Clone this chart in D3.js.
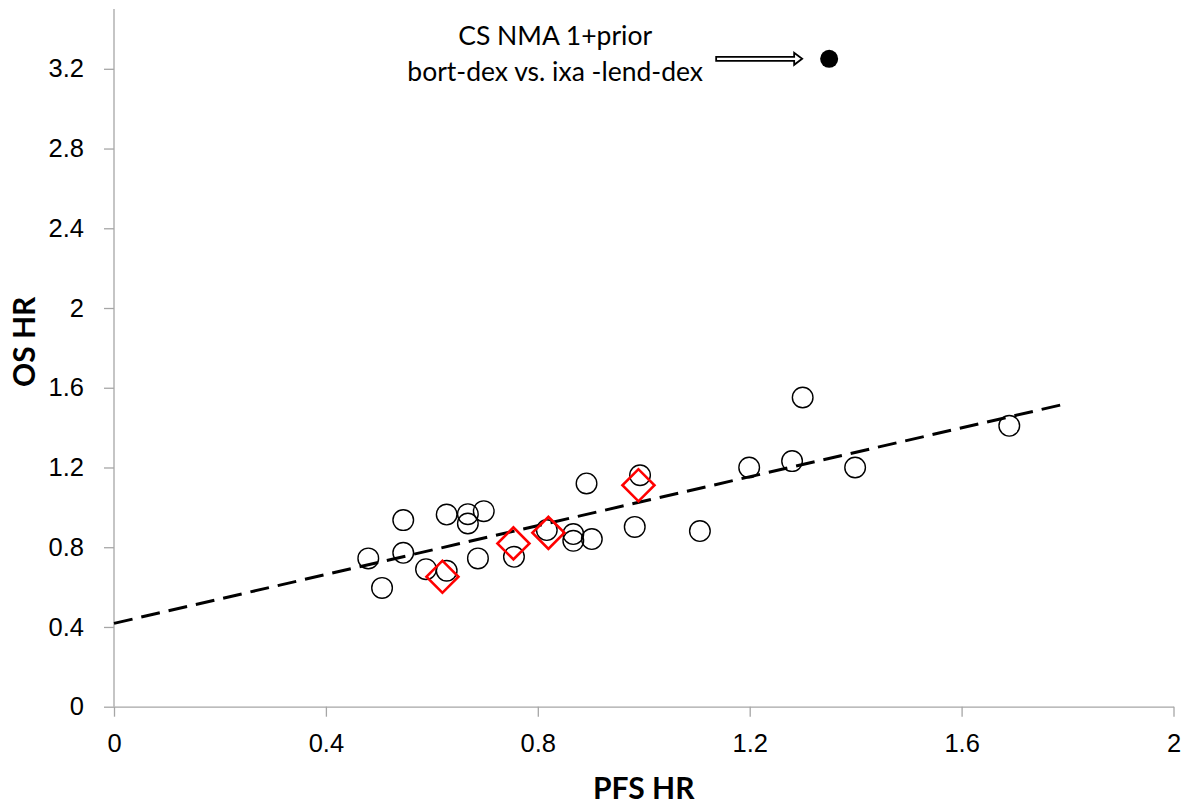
<!DOCTYPE html>
<html>
<head>
<meta charset="utf-8">
<script src="https://cdn.jsdelivr.net/npm/d3@7"></script>
<style>
  body { margin: 0; background: #fff; }
  svg { display: block; font-family: Lato, 'Open Sans', sans-serif; }
  .scatter__axis path,
  .scatter__axis line { stroke: #a6a6a6; stroke-width: 1.3; }
  .scatter__axis text { font-size: 25.5px; fill: #000; }
  .scatter__title { font-size: 30px; font-weight: bold; }
  .scatter__note { font-size: 26.5px; }
</style>
</head>
<body>
<div id="chart"></div>
<script>
// PFS HR / OS HR pairs
const pfsHR = [0.480, 0.546, 0.546, 0.506, 0.589, 0.628, 0.628, 0.668, 0.668, 0.698, 0.687,
  0.755, 0.817, 0.867, 0.867, 0.902, 0.892, 0.993, 0.983, 1.106, 1.300, 1.199, 1.280, 1.399, 1.690];
const osHR = [0.744, 0.936, 0.772, 0.596, 0.690, 0.682, 0.964, 0.966, 0.919, 0.981, 0.744,
  0.752, 0.886, 0.866, 0.832, 0.841, 1.120, 1.161, 0.902, 0.881, 1.551, 1.200, 1.232, 1.200, 1.409];

// highlighted comparisons (red diamonds)
const highlightPFS = [0.620, 0.754, 0.820, 0.990];
const highlightOS = [0.652, 0.819, 0.872, 1.111];

// annotated outlier
const outlier = [1.35, 3.25];
const noteLines = ['CS NMA 1+prior', 'bort-dex vs. ixa -lend-dex'];

// regression line: OS = intercept + slope * PFS, drawn from 0 to 1.8
const trendIntercept = 0.418;
const trendSlope = 0.613;
const trendRange = [0, 1.8];

const xTicks = [0, 0.4, 0.8, 1.2, 1.6, 2];
const yTicks = [0, 0.4, 0.8, 1.2, 1.6, 2, 2.4, 2.8, 3.2];

const width = 1190;
const height = 805;
const margin = { top: 9, right: 16.5, bottom: 98.3, left: 114 };

const svg = d3.select('#chart')
  .append('svg')
  .attr('width', width)
  .attr('height', height);

const x = d3.scaleLinear()
  .domain([0, 2])
  .range([margin.left, width - margin.right]);

const y = d3.scaleLinear()
  .domain([0, 3.5])
  .range([height - margin.bottom, margin.top]);

const xAxis = d3.axisBottom(x)
  .tickValues(xTicks)
  .tickFormat(d3.format('~g'))
  .tickSize(10)
  .tickSizeOuter(0)
  .tickPadding(12);

const yAxis = d3.axisLeft(y)
  .tickValues(yTicks)
  .tickFormat(d3.format('~g'))
  .tickSize(10)
  .tickSizeOuter(0)
  .tickPadding(20);

svg.append('g')
  .attr('class', 'scatter__axis scatter__axis--x')
  .attr('transform', `translate(0, ${y(0)})`)
  .call(xAxis)
  .call(g => g.selectAll('text').attr('dy', '0.92em'));

svg.append('g')
  .attr('class', 'scatter__axis scatter__axis--y')
  .attr('transform', `translate(${x(0)}, 0)`)
  .call(yAxis)
  .call(g => g.select('.domain').attr('d', `M0,${y(0)}V${y(3.5)}`));

// axis titles
svg.append('text')
  .attr('class', 'scatter__title')
  .attr('x', (x(0) + x(2)) / 2)
  .attr('y', 799)
  .attr('text-anchor', 'middle')
  .text('PFS HR');

svg.append('text')
  .attr('class', 'scatter__title')
  .attr('transform', `translate(35, ${y(1.83)}) rotate(-90)`)
  .attr('text-anchor', 'middle')
  .text('OS HR');

// trend line
const line = d3.line()
  .x(d => x(d))
  .y(d => y(trendIntercept + trendSlope * d));

svg.append('path')
  .datum(trendRange)
  .attr('d', line)
  .attr('fill', 'none')
  .attr('stroke', '#000')
  .attr('stroke-width', 3)
  .attr('stroke-dasharray', '19,9');

// open circles
svg.append('g')
  .selectAll('circle')
  .data(d3.zip(pfsHR, osHR))
  .join('circle')
  .attr('cx', d => x(d[0]))
  .attr('cy', d => y(d[1]))
  .attr('r', 10.3)
  .attr('fill', 'none')
  .attr('stroke', '#000')
  .attr('stroke-width', 1.4);

// red diamonds
const diamond = d3.symbol().type(d3.symbolSquare).size(512);

svg.append('g')
  .selectAll('path')
  .data(d3.zip(highlightPFS, highlightOS))
  .join('path')
  .attr('d', diamond)
  .attr('transform', d => `translate(${x(d[0])}, ${y(d[1])}) rotate(45)`)
  .attr('fill', 'none')
  .attr('stroke', '#ff0000')
  .attr('stroke-width', 2.6);

// outlier with its note
const ox = x(outlier[0]);
const oy = y(outlier[1]);

svg.append('circle')
  .attr('cx', ox)
  .attr('cy', oy)
  .attr('r', 9)
  .attr('fill', '#000');

const tipX = ox - 27;
const tailX = ox - 113;
svg.append('path')
  .attr('d', `M${tailX},${oy - 2}H${tipX - 8}V${oy - 6}L${tipX},${oy}L${tipX - 8},${oy + 6}V${oy + 2}H${tailX}Z`)
  .attr('fill', '#fff')
  .attr('stroke', '#000')
  .attr('stroke-width', 1.8);

svg.append('g')
  .selectAll('text')
  .data(noteLines)
  .join('text')
  .attr('class', 'scatter__note')
  .attr('x', tailX - 161)
  .attr('y', (d, i) => 45 + i * 36)
  .attr('text-anchor', 'middle')
  .text(d => d);
</script>
</body>
</html>
